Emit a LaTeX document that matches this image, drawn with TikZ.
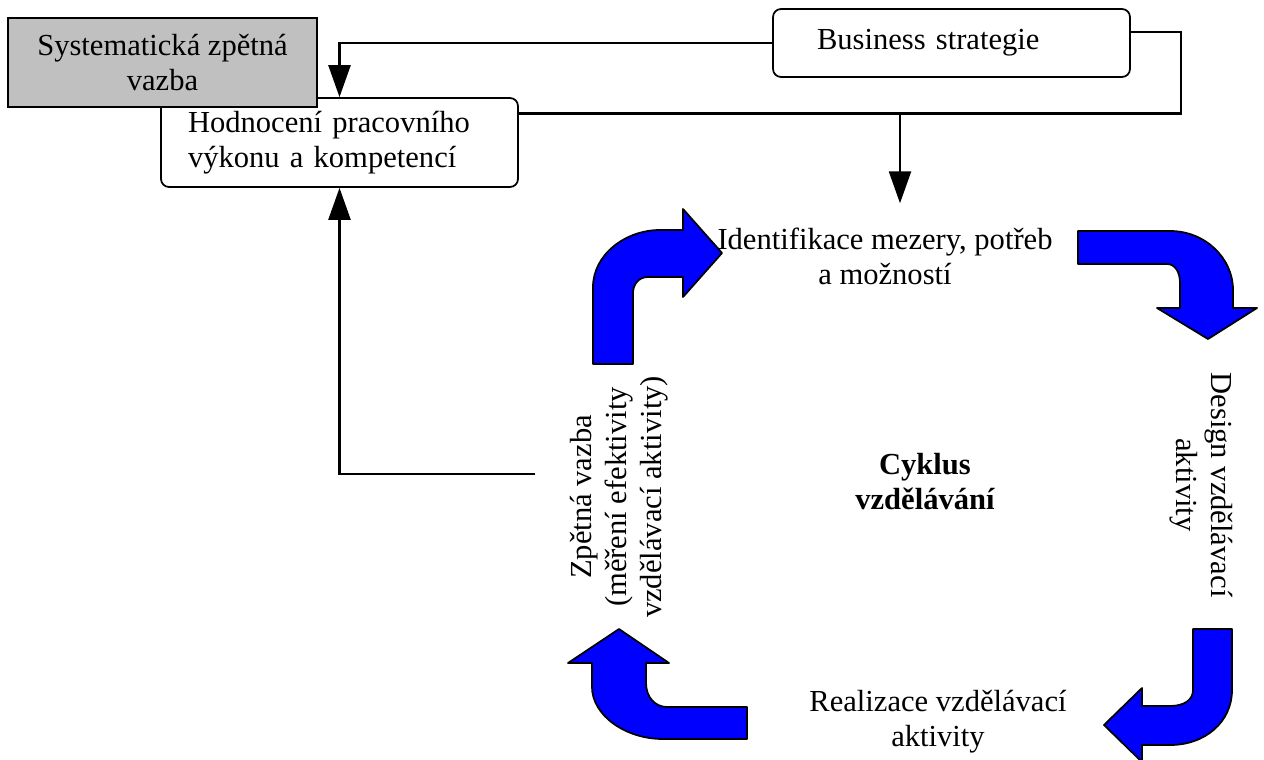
\documentclass[tikz,border=0pt]{standalone}
\usepackage{fontspec}
\setmainfont{Liberation Serif}
\usetikzlibrary{arrows.meta, positioning}
\definecolor{cycleblue}{RGB}{0,0,255}
\definecolor{boxgray}{RGB}{192,192,192}

\begin{document}
\begin{tikzpicture}[x=0.02cm, y=-0.02cm,
    txt/.style={font=\fontsize{17.4pt}{19.9pt}\selectfont, inner sep=0pt},
    boldtxt/.style={txt, font=\fontsize{17.4pt}{19.9pt}\selectfont\bfseries},
    roundbox/.style={txt, draw, line width=1pt, rounded corners=0.16cm,
      minimum width=7.14cm, minimum height=1.78cm},
    link/.style={line width=1.4pt},
    arr/.style={link, -{Triangle[length=0.64cm, width=0.44cm]}},
    bentarrow/.style={fill=cycleblue, draw=black, line width=1pt, line join=round}]
    \useasboundingbox (0,0) rectangle (1264,760);
    % Boxes at the top
    \node[roundbox, text width=6.06cm, inner xsep=0.54cm, align=left] (hodn)
      at (339.5,142.5) {Hodnocení pracovního\\výkonu a kompetencí};
    \node[txt, draw, fill=boxgray, line width=1pt, minimum width=6.18cm,
      minimum height=1.78cm, align=center] (sys)
      at (162.5,62.5) {Systematická zpětná\\vazba};
    \node[roundbox, minimum height=1.36cm, text width=5.38cm, inner xsep=0.88cm,
      align=left] (biz) at (951.5,43) {Business strategie};
    % Texts of the cycle
    \node[txt, inner ysep=0.48cm, align=center] (ident) at (885,256)
      {Identifikace mezery, potřeb\\a možností};
    \node[txt, rotate=-90, align=center] (design) at (1201,485)
      {Design vzdělávací\\aktivity};
    \node[txt, align=center] (real) at (938,722) {Realizace vzdělávací\\aktivity};
    \node[txt, rotate=90, align=center] (zpet) at (619,497)
      {Zpětná vazba\\(měření efektivity\\vzdělávací aktivity)};
    \node[boldtxt, align=center] (cyc) at (925,482) {Cyklus\\vzdělávání};
    % Connectors
    \coordinate (split) at (900,113.5);
    \coordinate (rturn) at (1181,113.5);
    \coordinate (fbk) at (535,474);
    \draw[arr] (biz.west) -| (hodn.north);
    \draw[link] ([yshift=0.22cm]biz.east) -| (rturn) |- ([yshift=0.58cm]hodn.east);
    \draw[arr] (split) -- (split |- ident.north);
    \draw[arr] (fbk) -| (hodn.south);
    % Blue bent arrows
    \filldraw[bentarrow] (593,364) -- (593,287) .. controls (593,255) and (625,230) .. (660,230)
      -- (683,230) -- (683,209) -- (722,253) -- (683,297) -- (683,277) -- (648,277)
      .. controls (639,277) and (633,284) .. (633,293) -- (633,364) -- cycle;
    \filldraw[bentarrow] (1078,231) -- (1170,231) .. controls (1205,231) and (1233,258) .. (1233,290)
      -- (1233,308) -- (1257,308) -- (1208,339) -- (1157,308) -- (1180,308) -- (1180,283)
      .. controls (1180,272) and (1175,264) .. (1167,264) -- (1078,264) -- cycle;
    \filldraw[bentarrow] (1193,629) -- (1232,629) -- (1232,690) .. controls (1232,722) and (1205,745) .. (1170,745)
      -- (1142,745) -- (1142,762) -- (1104,725) -- (1142,688) -- (1142,706) -- (1170,706)
      .. controls (1184,706) and (1193,700) .. (1193,690) -- cycle;
    \filldraw[bentarrow] (747,707) -- (747,739) -- (663,739) .. controls (625,739) and (592,715) .. (592,687)
      -- (592,663) -- (568,663) -- (619,629) -- (669,663) -- (646,663) -- (646,683)
      .. controls (646,697) and (655,707) .. (667,707) -- cycle;
\end{tikzpicture}
\end{document}
